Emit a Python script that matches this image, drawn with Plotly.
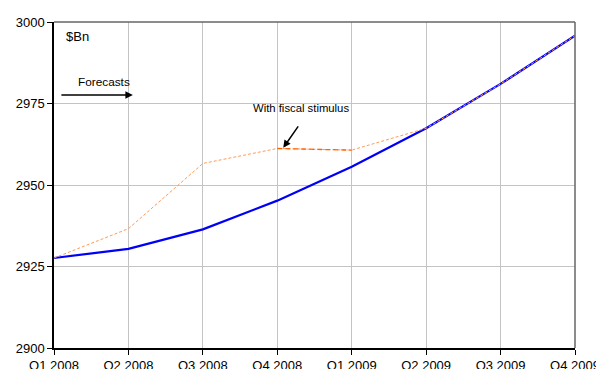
import plotly.graph_objects as go

quarters = ["Q1 2008", "Q2 2008", "Q3 2008", "Q4 2008", "Q1 2009", "Q2 2009", "Q3 2009", "Q4 2009"]
baseline = [2927.6, 2930.4, 2936.4, 2945.2, 2955.6, 2967.4, 2981.0, 2995.8]
stimulus = [2927.6, 2936.6, 2956.6, 2961.2, 2960.7, 2967.4, 2981.0, 2995.8]
y_ticks = [2900, 2925, 2950, 2975, 3000]

xs = list(range(len(quarters)))
font = "Liberation Sans, Arial, sans-serif"

fig = go.Figure()
fig.add_trace(go.Scatter(x=xs, y=baseline, mode="lines",
                         line=dict(color="#0000f5", width=2.2), showlegend=False))
fig.add_trace(go.Scatter(x=xs, y=stimulus, mode="lines",
                         line=dict(color="#ff9a55", width=1, dash="3px,2px"), showlegend=False))
fig.add_trace(go.Scatter(x=xs[3:5], y=stimulus[3:5], mode="lines",
                         line=dict(color="#ff6400", width=1.3, dash="5px,3px"), showlegend=False))

# page body has an 8px default margin, so the figure is offset by 8px
fig.update_layout(
    width=596, height=361,
    margin=dict(l=46, r=29, t=14, b=21),
    plot_bgcolor="white", paper_bgcolor="white",
    font=dict(family=font, size=13, color="black"),
    xaxis=dict(range=[0, 7], tickvals=xs, ticktext=quarters, showgrid=True,
               gridcolor="#c4c4c4", gridwidth=1, showline=True, linecolor="black",
               linewidth=1.5, ticks="outside", ticklen=5, tickcolor="black",
               zeroline=False, tickfont=dict(size=13), automargin=False),
    yaxis=dict(range=[2900, 3000], tickvals=y_ticks, showgrid=True,
               gridcolor="#c4c4c4", gridwidth=1, showline=True, linecolor="black",
               linewidth=1.5, ticks="outside", ticklen=5, tickcolor="black",
               zeroline=False, tickfont=dict(size=13), automargin=False),
    shapes=[
        dict(type="line", xref="paper", yref="paper", x0=0, x1=1, y0=1, y1=1,
             line=dict(color="#666666", width=1.5)),
        dict(type="line", xref="paper", yref="paper", x0=1, x1=1, y0=0, y1=1,
             line=dict(color="#666666", width=1.5)),
    ],
    annotations=[
        dict(text="$Bn", xref="x", yref="paper", x=0.13, y=0.985, xanchor="left",
             yanchor="top", showarrow=False, font=dict(size=13)),
        dict(text="Forecasts", xref="x", yref="y", x=0.67, y=2981.5,
             showarrow=False, font=dict(size=11.8)),
        dict(text="", xref="x", yref="y", x=1.06, y=2977.6, ax=-73, ay=0,
             showarrow=True, arrowhead=2, arrowsize=1, arrowwidth=1.5, arrowcolor="black"),
        dict(text="With fiscal stimulus", xref="x", yref="y", x=3.32, y=2973.7,
             showarrow=False, font=dict(size=11.3)),
        dict(text="", xref="x", yref="y", x=3.08, y=2961.4, ax=16, ay=-23,
             showarrow=True, arrowhead=2, arrowsize=1, arrowwidth=1.5, arrowcolor="black"),
    ],
)

fig.write_html("out.html")
